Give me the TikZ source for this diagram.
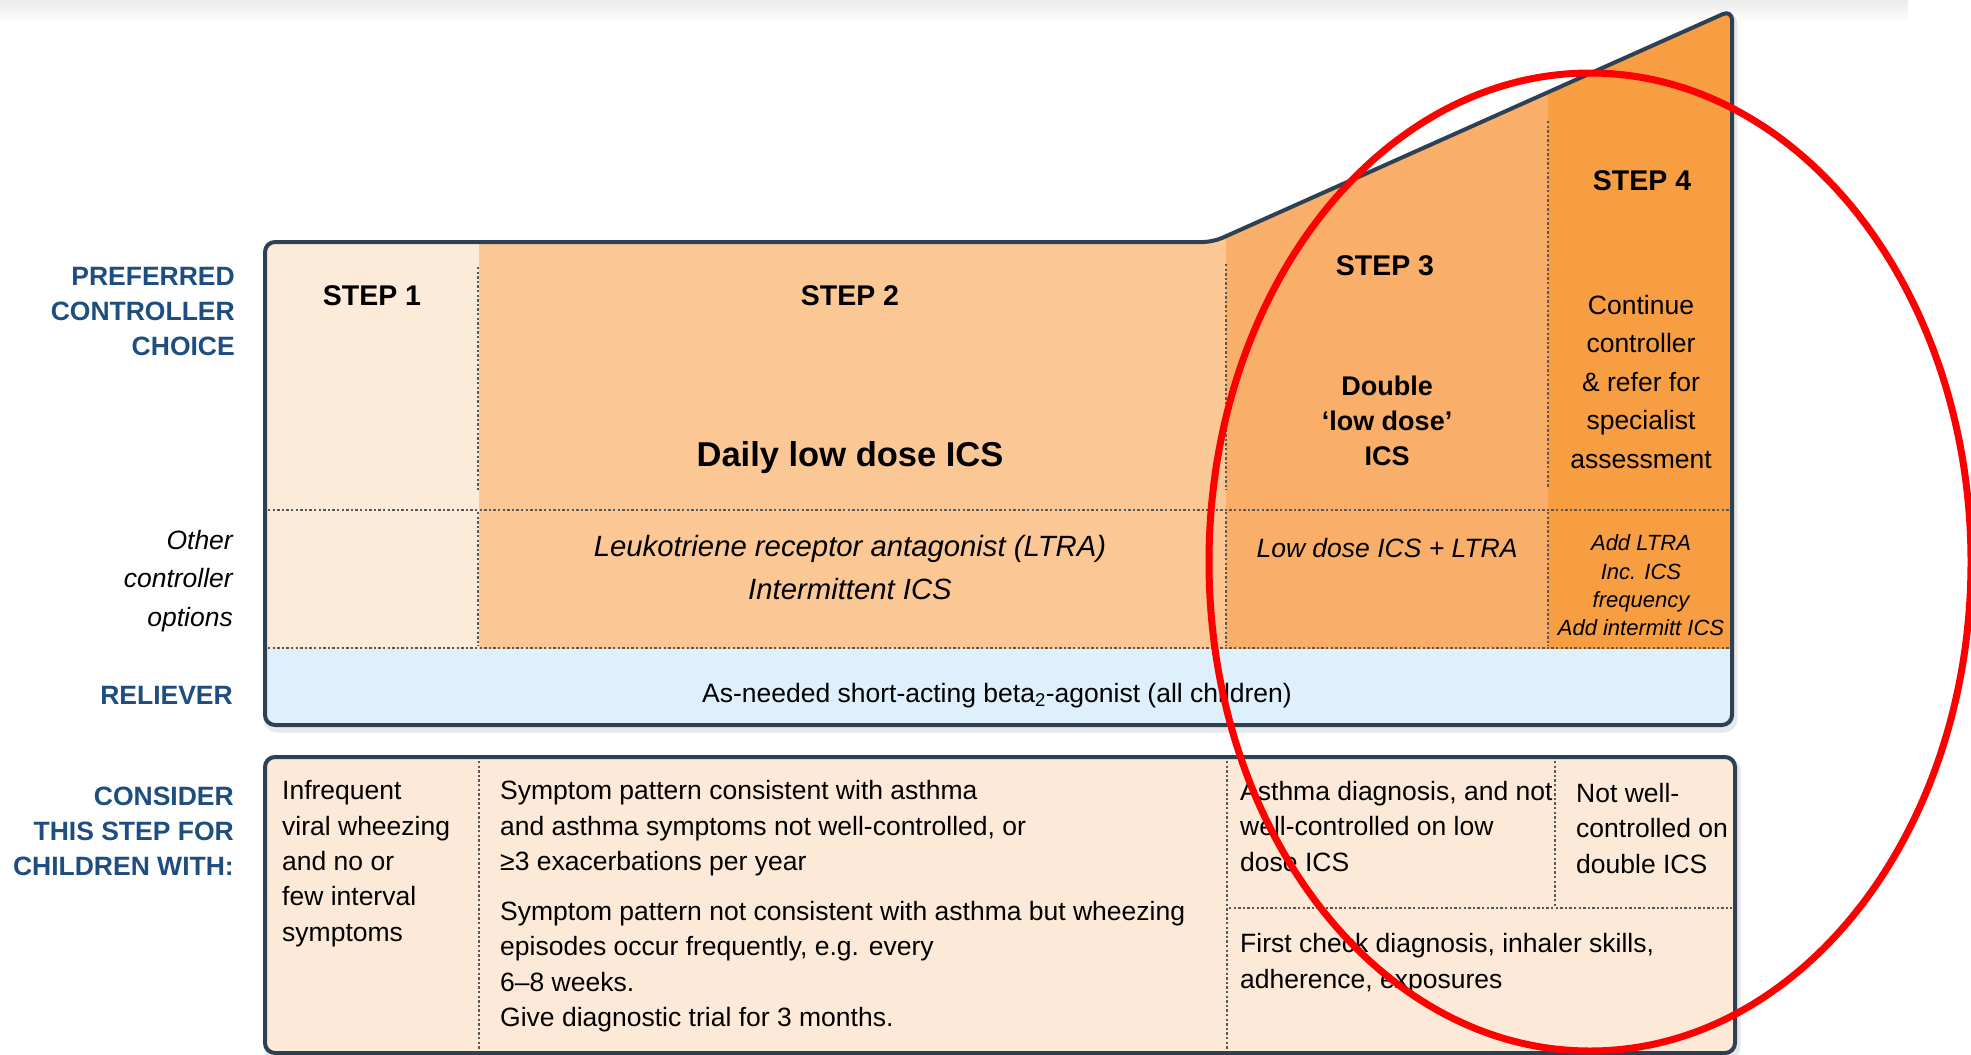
\documentclass[tikz,border=0pt]{standalone}
\usepackage{fontspec}
\setmainfont{Liberation Sans}
\definecolor{labelblue}{HTML}{1D4E7F}
\definecolor{framecol}{HTML}{2E4053}
\definecolor{dotcol}{HTML}{585858}
\definecolor{stepone}{HTML}{FDEBDA}
\definecolor{steptwo}{HTML}{FBC895}
\definecolor{stepthree}{HTML}{F9AF6A}
\definecolor{stepfour}{HTML}{F79D42}
\definecolor{relieverblue}{HTML}{DDF0FC}
\definecolor{criteriafill}{HTML}{FDE9D7}
\definecolor{alertred}{HTML}{FF0000}
\newcommand\setsize[2]{\fontsize{#1}{#2}\selectfont}

\begin{document}
\begin{tikzpicture}[x=1pt,y=-1pt,
  frame/.style={draw=framecol,line width=4pt,rounded corners=10pt},
  softshadow/.style={draw=framecol,line width=7pt,rounded corners=10pt,opacity=0.12},
  divider/.style={draw=dotcol,line width=2.6pt,dash pattern=on 2.4pt off 2.2pt},
  rowlabel/.style={text=labelblue,font=\bfseries\setsize{26.5}{35},align=right,anchor=east,inner sep=0pt},
  sidenote/.style={font=\itshape\setsize{26.5}{38.5},align=right,anchor=east,inner sep=0pt},
  steptitle/.style={font=\bfseries\setsize{28.5}{34},anchor=base,inner sep=0pt},
  cell/.style={align=center,anchor=center,inner sep=0pt},
  criteria/.style={font=\setsize{26.5}{35.3},align=left,anchor=north west,inner sep=0pt},
]
\useasboundingbox (0,0) rectangle (1971,1055);

% faint band along the top edge
\shade[top color=black!8,bottom color=white] (0,0) rectangle (1908,22);

% soft shadows under both panels
\draw[softshadow] (267,729) -- (267,246) -- (1215,246) -- (1734,14) -- (1734,729) -- cycle;
\draw[softshadow] (267,761) rectangle (1737,1057);

% ---- upper panel: step columns and reliever row ----
\begin{scope}
  \clip[rounded corners=10pt] (265,725) -- (265,242) -- (1213,242) -- (1732,10) -- (1732,725) -- cycle;
  \fill[stepone]   (265,0)  rectangle (479,649);
  \fill[steptwo]   (479,0)  rectangle (1226,649);
  \fill[stepthree] (1226,0) rectangle (1548,649);
  \fill[stepfour]  (1548,0) rectangle (1732,649);
  \fill[relieverblue] (265,649) rectangle (1732,725);
\end{scope}

% dotted grid of the upper panel
\draw[divider] (478,267) -- (478,490);
\draw[divider] (478,512) -- (478,646);
\draw[divider] (1226,264) -- (1226,490);
\draw[divider] (1226,512) -- (1226,646);
\draw[divider] (1548,121) -- (1548,488);
\draw[divider] (1548,512) -- (1548,646);
\draw[divider] (268,510) -- (1729,510);
\draw[divider] (268,648) -- (1729,648);

% outline of the stepped panel
\draw[frame] (265,725) -- (265,242) -- (1213,242) -- (1732,10) -- (1732,725) -- cycle;

% ---- lower panel: criteria for each step ----
\draw[frame,fill=criteriafill] (265,757) rectangle (1735,1053);
\draw[divider] (479,761) -- (479,1050);
\draw[divider] (1227,761) -- (1227,1050);
\draw[divider] (1555,761) -- (1555,906);
\draw[divider] (1229,908) -- (1732,908);

% ---- row labels ----
\node[rowlabel] (preferred) at (235,312) {PREFERRED\\CONTROLLER\\CHOICE};
\node[sidenote] (other) at (233,581) {Other\\controller\\options};
\node[rowlabel] (reliever) at (233,695) {RELIEVER};
\node[rowlabel] (consider) at (234,831) {CONSIDER\\THIS STEP FOR\\CHILDREN WITH:};

% ---- step titles ----
\node[steptitle] (step1) at (372,305) {STEP 1};
\node[steptitle] (step2) at (850,305) {STEP 2};
\node[steptitle] (step3) at (1385,275) {STEP 3};
\node[steptitle] (step4) at (1642,190) {STEP 4};

% ---- preferred controllers ----
\node[anchor=base,inner sep=0pt,font=\bfseries\setsize{34.5}{40}] (daily) at (850,466.5) {Daily low dose ICS};
\node[cell,font=\bfseries\setsize{27}{35}] (double) at (1387,421) {Double\\‘low dose’\\ICS};
\node[cell,font=\setsize{26.5}{38.5}] (refer) at (1641,382) {Continue\\controller\\\& refer for\\specialist\\assessment};

% ---- other controller options ----
\node[cell,font=\itshape\setsize{29.3}{43}] (ltra) at (850,568) {Leukotriene receptor antagonist (LTRA)\\Intermittent ICS};
\node[anchor=base,inner sep=0pt,font=\itshape\setsize{26.5}{32}] (combo) at (1387,557.5) {Low dose ICS + LTRA};
\node[cell,font=\itshape\setsize{22}{28.3}] (addon) at (1641,585.5) {Add LTRA\\Inc. ICS\\frequency\\Add intermitt ICS};

% ---- reliever ----
\node[anchor=base,inner sep=0pt,font=\setsize{26.5}{32}] (saba) at (997,702) {As-needed short-acting beta\textsubscript{2}-agonist (all children)};

% ---- criteria texts ----
\node[criteria] (crit1) at (282,780.5) {Infrequent\\viral wheezing\\and no or\\few interval\\symptoms};
\node[criteria] (crit2) at (500,780.5) {Symptom pattern consistent with asthma\\and asthma symptoms not well-controlled, or\\≥3 exacerbations per year\\[14.7pt]Symptom pattern not consistent with asthma but wheezing\\episodes occur frequently, e.g. every\\6–8 weeks.\\Give diagnostic trial for 3 months.};
\node[criteria] (crit3) at (1240,781) {Asthma diagnosis, and not\\well-controlled on low\\dose ICS};
\node[criteria] (crit4) at (1576,783) {Not well-\\controlled on\\double ICS};
\node[criteria] (check) at (1240,933.5) {First check diagnosis, inhaler skills,\\adherence, exposures};

% ---- red highlight ring ----
\draw[alertred,line width=7pt] (1590,562) ellipse [x radius=381pt, y radius=489pt];
\end{tikzpicture}
\end{document}
